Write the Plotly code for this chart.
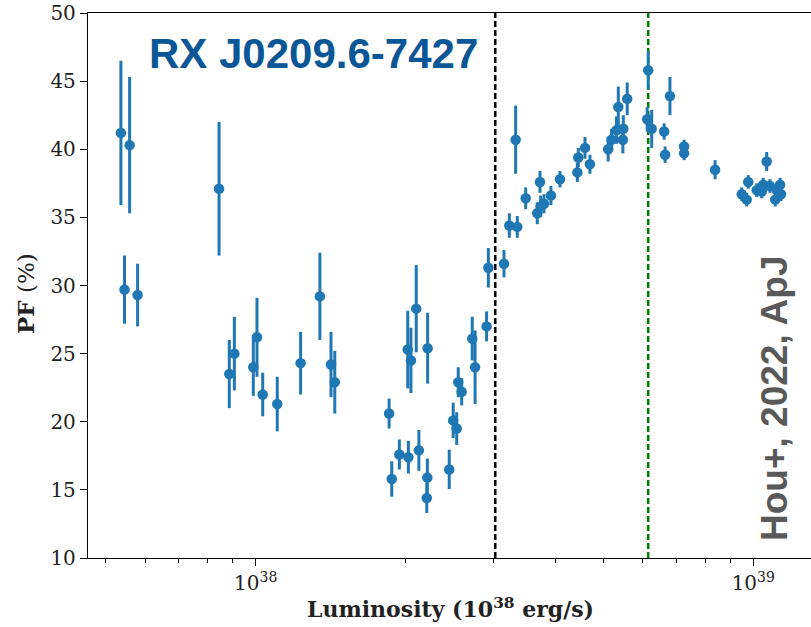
import plotly.graph_objects as go

# ---- data (luminosity in erg/s, pulsed fraction in %) ----
luminosity = [
    5.36e37, 5.45e37, 5.58e37, 5.79e37, 8.44e37, 8.85e37, 9.06e37, 9.89e37, 1.006e38, 1.033e38,
    1.105e38, 1.231e38, 1.346e38, 1.417e38, 1.442e38, 1.854e38, 1.877e38, 1.944e38, 2.021e38, 2.027e38,
    2.051e38, 2.102e38, 2.128e38, 2.207e38, 2.213e38, 2.216e38, 2.449e38, 2.494e38, 2.535e38, 2.553e38,
    2.594e38, 2.724e38, 2.76e38, 2.911e38, 2.935e38, 3.155e38, 3.234e38, 3.33e38, 3.355e38, 3.488e38,
    3.68e38, 3.727e38, 3.738e38, 3.796e38, 3.92e38, 4.088e38, 4.43e38, 4.45e38, 4.59e38, 4.696e38,
    5.11e38, 5.19e38, 5.31e38, 5.355e38, 5.47e38, 5.48e38, 5.58e38, 6.15e38, 6.12e38, 6.25e38,
    6.62e38, 6.8e38, 6.65e38, 7.26e38, 7.26e38, 8.38e38, 9.48e38, 9.7e38, 9.77e38, 1.016e39,
    1.04e39, 1.047e39, 1.064e39, 1.08e39, 1.107e39, 1.114e39, 1.132e39, 1.137e39,
]
pulsed_fraction = [
    41.2, 29.7, 40.3, 29.3, 37.1, 23.5, 25.0, 24.0, 26.2, 22.0,
    21.3, 24.3, 29.2, 24.2, 22.9, 20.6, 15.8, 17.6, 25.3, 17.4,
    24.5, 28.3, 17.9, 14.4, 15.9, 25.4, 16.5, 20.1, 19.5, 22.9,
    22.2, 26.1, 24.0, 27.0, 31.3, 31.6, 34.4, 40.7, 34.3, 36.4,
    35.3, 37.6, 35.8, 36.0, 36.6, 37.8, 38.3, 39.4, 40.1, 38.9,
    40.0, 40.7, 41.4, 43.1, 40.7, 41.5, 43.7, 45.8, 42.2, 41.5,
    41.3, 43.9, 39.6, 40.2, 39.7, 38.5, 36.7, 36.3, 37.6, 37.0,
    36.9, 37.4, 39.1, 37.3, 36.3, 37.0, 37.4, 36.7,
]
pf_error = [
    5.3, 2.5, 5.0, 2.3, 4.9, 2.5, 2.7, 2.1, 2.9, 1.6,
    2.0, 2.3, 3.2, 2.4, 2.3, 1.1, 1.3, 1.1, 2.85, 1.2,
    2.4, 3.2, 1.5, 1.1, 1.4, 2.6, 1.45, 1.3, 1.2, 1.1,
    1.0, 1.6, 2.7, 1.1, 1.45, 1.0, 0.9, 2.5, 0.8, 0.8,
    0.8, 0.8, 0.8, 0.7, 0.7, 0.6, 0.7, 0.7, 0.8, 0.7,
    0.9, 0.8, 1.0, 1.5, 1.0, 1.0, 1.2, 1.4, 0.9, 1.4,
    0.6, 1.4, 0.6, 0.5, 0.5, 0.7, 0.5, 0.5, 0.5, 0.5,
    0.5, 0.5, 0.7, 0.5, 0.5, 0.5, 0.5, 0.5,
]
critical_lum_black = 3.03e38
critical_lum_green = 6.15e38
x_tick_vals = [1e38, 1e39]
x_tick_text = ["10<sup>38</sup>", "10<sup>39</sup>"]
x_minor_vals = [5e37, 6e37, 7e37, 8e37, 9e37, 2e38, 3e38, 4e38, 5e38, 6e38, 7e38, 8e38, 9e38]
y_tick_vals = [10, 15, 20, 25, 30, 35, 40, 45, 50]

BLUE = "#1f77b4"
SERIF = "DejaVu Serif"
TEXT = "#222222"

fig = go.Figure()

fig.add_trace(go.Scatter(
    x=[critical_lum_black, critical_lum_black], y=[10, 50], mode="lines",
    line=dict(color="black", width=2.5, dash="6px,3px"), hoverinfo="skip", showlegend=False,
))
fig.add_trace(go.Scatter(
    x=[critical_lum_green, critical_lum_green], y=[10, 50], mode="lines",
    line=dict(color="green", width=2.5, dash="6px,3px"), hoverinfo="skip", showlegend=False,
))

fig.add_trace(go.Scatter(
    x=luminosity, y=pulsed_fraction, mode="markers",
    marker=dict(color=BLUE, size=10.5, line=dict(width=0)),
    error_y=dict(type="data", array=pf_error, visible=True, color=BLUE, thickness=3, width=0),
    showlegend=False,
))

fig.update_layout(
    width=811, height=627,
    margin=dict(l=88, r=0, t=13, b=69),
    paper_bgcolor="white", plot_bgcolor="white",
    font=dict(family=SERIF, color=TEXT),
    xaxis=dict(
        type="log", range=[37.663, 39.116],
        showline=True, linecolor="black", linewidth=1.3, mirror=True,
        showgrid=False, zeroline=False,
        ticks="outside", ticklen=7, tickwidth=1.3, tickcolor="black",
        tickmode="array", tickvals=x_tick_vals, ticktext=x_tick_text,
        tickfont=dict(family=SERIF, size=20, color=TEXT),
        minor=dict(ticks="outside", ticklen=4, tickwidth=1.1, tickcolor="black",
                   tickmode="array", tickvals=x_minor_vals, showgrid=False),
    ),
    yaxis=dict(
        range=[10, 50],
        showline=True, linecolor="black", linewidth=1.3, mirror=False,
        showgrid=False, zeroline=False,
        ticks="outside", ticklen=7, tickwidth=1.3, tickcolor="black",
        tickmode="array", tickvals=y_tick_vals,
        tickfont=dict(family=SERIF, size=20, color=TEXT),
    ),
    annotations=[
        dict(text="<b>Luminosity (10<sup>38</sup> erg/s)</b>", xref="paper", yref="paper",
             x=(450 - 88) / 723, y=0, yshift=-50, xanchor="center", yanchor="middle",
             showarrow=False, font=dict(family=SERIF, size=22, color=TEXT)),
        dict(text="<b>PF</b> (%)", xref="paper", yref="paper",
             x=0, xshift=-63, y=(558 - 294) / 545, yanchor="middle", xanchor="center",
             textangle=-90, showarrow=False, font=dict(family=SERIF, size=23, color=TEXT)),
        dict(text="<b>RX J0209.6-7427</b>", xref="paper", yref="paper",
             x=(147 - 88) / 723, y=(558 - 54) / 545, xanchor="left", yanchor="middle",
             showarrow=False, font=dict(family="Liberation Sans", size=42, color="#0b5697")),
        dict(text="<b>Hou+, 2022, ApJ</b>", xref="paper", yref="paper",
             x=(774 - 88) / 723, y=(558 - 398) / 545, xanchor="center", yanchor="middle",
             textangle=-90, showarrow=False, font=dict(family="Liberation Sans", size=37, color="#595959")),
    ],
)

fig.write_html("out.html")
